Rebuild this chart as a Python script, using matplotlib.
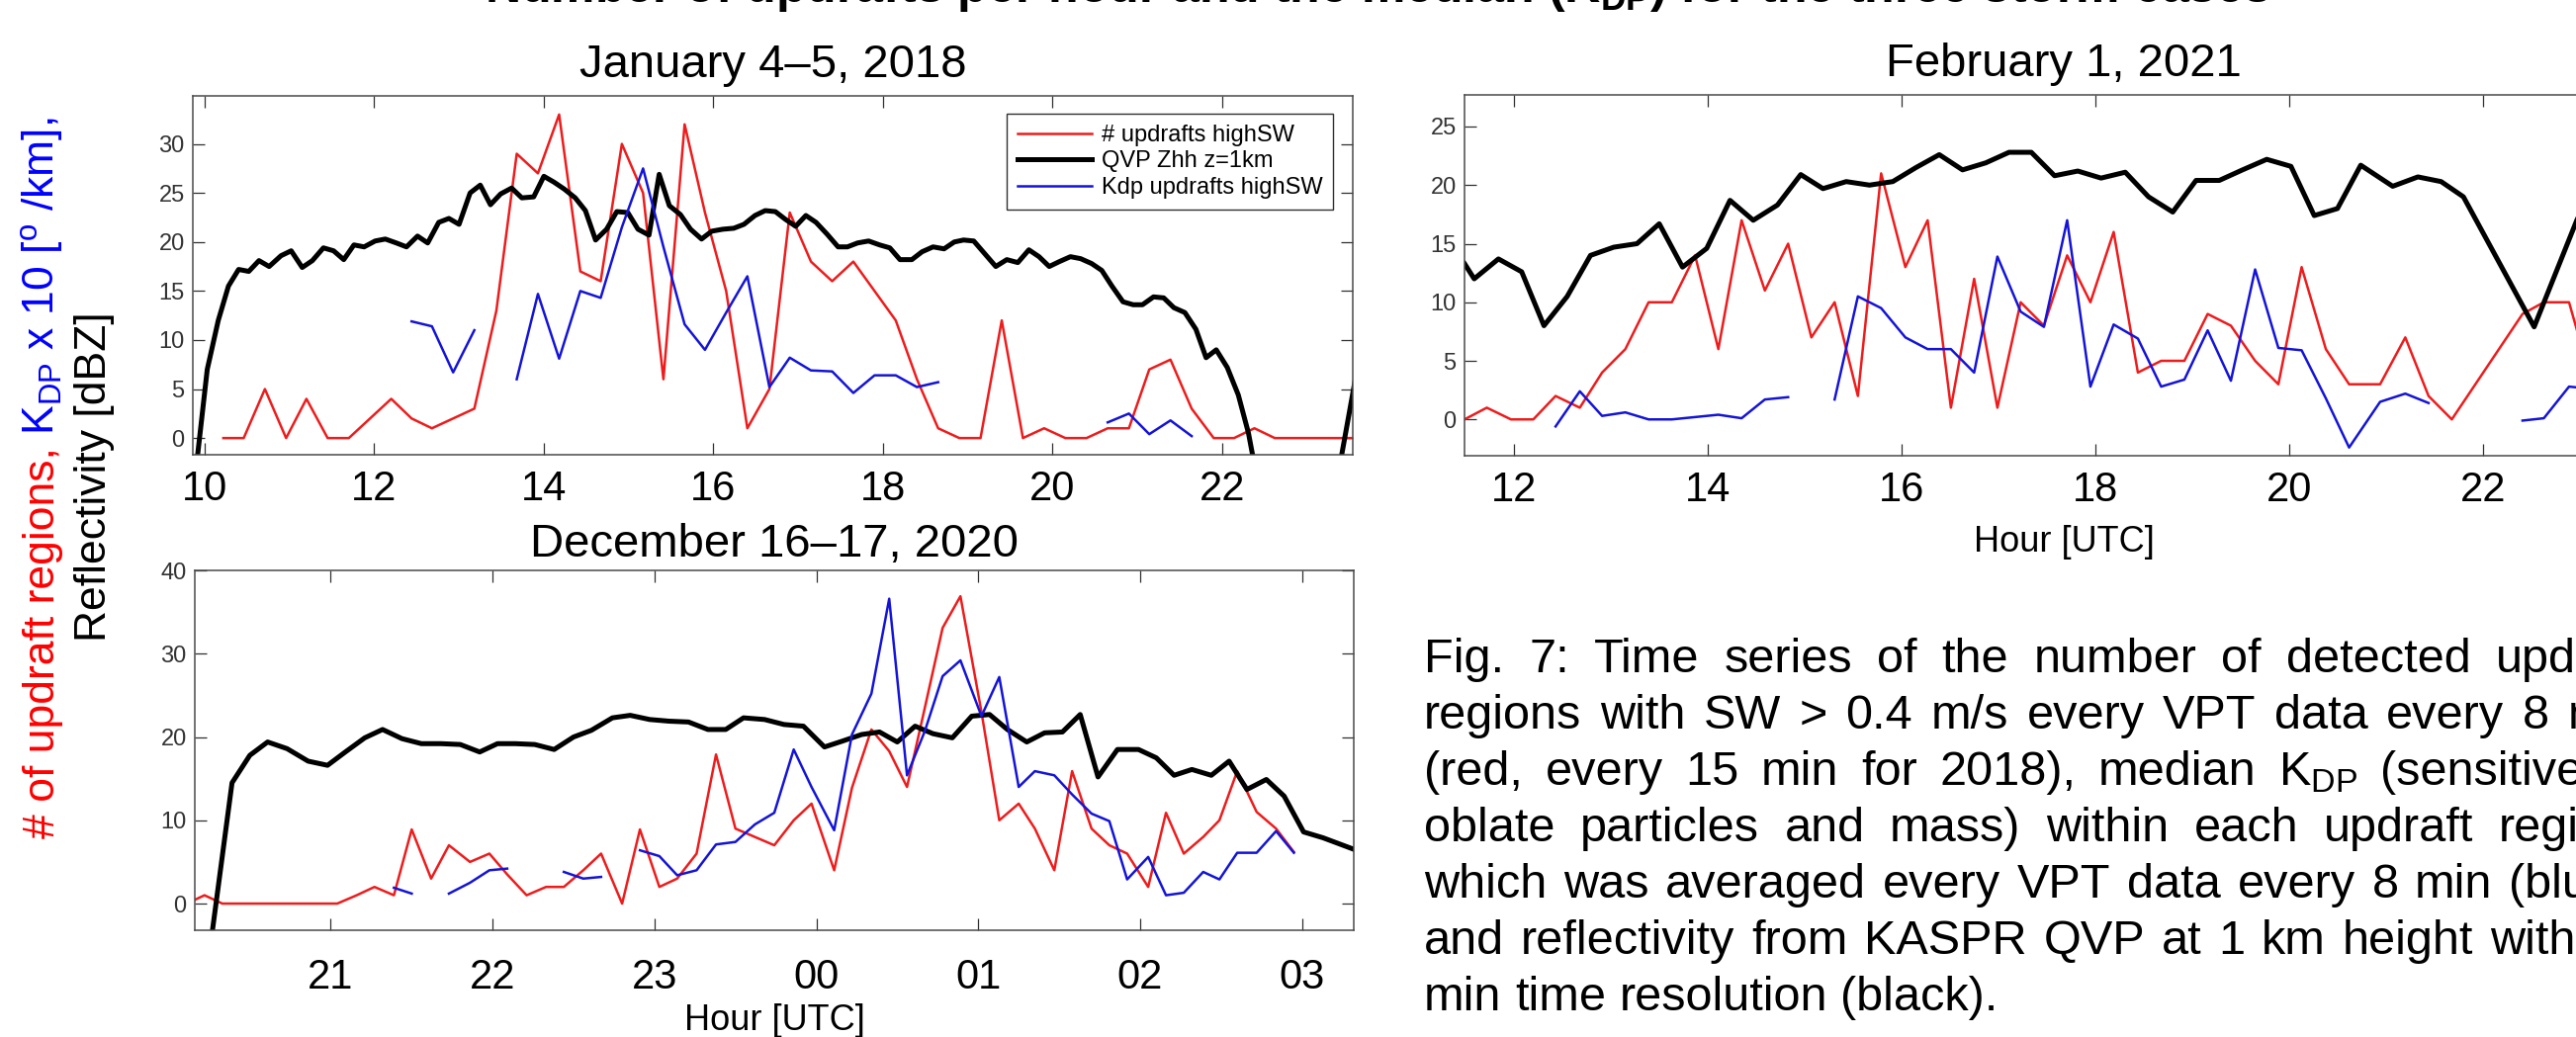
import numpy as np
import matplotlib
matplotlib.use("Agg")
import matplotlib.pyplot as plt
from matplotlib.lines import Line2D

plt.rcParams['font.family'] = ['Liberation Sans', 'DejaVu Sans']
plt.rcParams['mathtext.fontset'] = 'custom'
plt.rcParams['mathtext.rm'] = 'Liberation Sans'
plt.rcParams['mathtext.it'] = 'Liberation Sans:italic'
plt.rcParams['mathtext.bf'] = 'Liberation Sans:bold'
plt.rcParams['mathtext.default'] = 'regular'

nan = np.nan

# ---- January 4-5, 2018 ----
t_jan = [10.22, 10.46, 10.71, 10.96, 11.20, 11.45, 11.70, 11.95, 12.20, 12.44,
         12.68, 12.93, 13.18, 13.44, 13.68, 13.93, 14.18, 14.43, 14.67, 14.92,
         15.17, 15.41, 15.66, 15.90, 16.15, 16.40, 16.66, 16.90, 17.15, 17.40,
         17.65, 17.90, 18.15, 18.40, 18.65, 18.90, 19.15, 19.40, 19.65, 19.90,
         20.15, 20.40, 20.65, 20.90, 21.14, 21.39, 21.64, 21.90, 22.14, 22.38,
         22.62, 22.87, 23.12, 23.37, 23.62]
updrafts_jan = [0, 0, 5, 0, 4, 0, 0, 2, 4, 2,
                1, 2, 3, 13, 29, 27, 33, 17, 16, 30,
                25, 6, 32, 23, 15, 1, 5, 23, 18, 16,
                18, 15, 12, 6, 1, 0, 0, 12, 0, 1,
                0, 0, 1, 1, 7, 8, 3, 0, 0, 1,
                0, 0, 0, 0, 0]
kdp_jan = [nan, nan, nan, nan, nan, nan, nan, nan, nan, 11.9,
           11.4, 6.7, 11.0, nan, 6.0, 14.7, 8.1, 15.0, 14.3, 21.5,
           27.5, 19.5, 11.6, 9.0, 12.8, 16.5, 5.2, 8.2, 6.9, 6.8,
           4.6, 6.4, 6.4, 5.2, 5.7, nan, nan, nan, nan, nan,
           nan, nan, 1.6, 2.5, 0.4, 1.8, 0.2, nan, nan, nan,
           nan, nan, nan, nan, nan]
tq_jan = [9.90, 10.03, 10.16, 10.28, 10.40, 10.52, 10.64, 10.76, 10.90, 11.02,
          11.15, 11.27, 11.40, 11.52, 11.64, 11.76, 11.88, 12.01, 12.13, 12.26,
          12.38, 12.51, 12.63, 12.76, 12.88, 13.00, 13.13, 13.25, 13.37, 13.49,
          13.62, 13.74, 13.88, 14.00, 14.12, 14.24, 14.37, 14.49, 14.61, 14.74,
          14.86, 14.99, 15.11, 15.24, 15.36, 15.48, 15.61, 15.73, 15.86, 15.98,
          16.11, 16.24, 16.36, 16.49, 16.61, 16.73, 16.85, 16.97, 17.09, 17.21,
          17.34, 17.47, 17.58, 17.70, 17.83, 17.96, 18.08, 18.20, 18.34, 18.46,
          18.59, 18.72, 18.84, 18.95, 19.07, 19.20, 19.33, 19.46, 19.59, 19.72,
          19.84, 19.96, 20.08, 20.21, 20.33, 20.46, 20.58, 20.70, 20.83, 20.95,
          21.06, 21.19, 21.31, 21.43, 21.56, 21.69, 21.81, 21.93, 22.06, 22.19,
          22.31, 22.43, 23.32, 23.57]
zhh_jan = [-3, 7, 12, 15.5, 17.2, 17.0, 18.1, 17.5, 18.6, 19.1,
           17.4, 18.1, 19.4, 19.1, 18.2, 19.7, 19.5, 20.1, 20.3, 19.9,
           19.5, 20.6, 19.9, 22.0, 22.4, 21.8, 25.0, 25.8, 23.8, 24.9,
           25.5, 24.5, 24.6, 26.7, 26.1, 25.4, 24.5, 23.2, 20.2, 21.3,
           23.1, 23.0, 21.3, 20.7, 26.9, 23.7, 22.8, 21.3, 20.3, 21.1,
           21.3, 21.4, 21.8, 22.7, 23.2, 23.1, 22.3, 21.6, 22.7, 22.0,
           20.8, 19.5, 19.5, 19.9, 20.1, 19.7, 19.4, 18.2, 18.2, 19.0,
           19.5, 19.3, 20.0, 20.2, 20.1, 18.8, 17.5, 18.2, 17.9, 19.2,
           18.5, 17.5, 18.0, 18.5, 18.3, 17.8, 17.1, 15.5, 13.9, 13.6,
           13.6, 14.4, 14.3, 13.3, 12.8, 11.1, 8.2, 9.0, 7.2, 4.4,
           0.5, -5, -6, 6]

# ---- February 1, 2021 ----
t_feb = [11.49, 11.72, 11.97, 12.20, 12.43, 12.68, 12.91, 13.15, 13.39, 13.63,
         13.87, 14.11, 14.35, 14.59, 14.83, 15.07, 15.31, 15.55, 15.79, 16.04,
         16.27, 16.51, 16.75, 16.99, 17.23, 17.47, 17.71, 17.95, 18.19, 18.44,
         18.68, 18.92, 19.16, 19.40, 19.65, 19.89, 20.13, 20.38, 20.62, 20.94,
         21.20, 21.44, 21.68, 22.41, 22.63, 22.89, 23.13]
updrafts_feb = [0, 1, 0, 0, 2, 1, 4, 6, 10, 10,
                14, 6, 17, 11, 15, 7, 10, 2, 21, 13,
                17, 1, 12, 1, 10, 8, 14, 10, 16, 4,
                5, 5, 9, 8, 5, 3, 13, 6, 3, 3,
                7, 2, 0, 9, 10, 10, 3]
kdp_feb = [nan, nan, nan, nan, -0.6, 2.4, 0.3, 0.6, 0.0, 0.0,
           0.2, 0.4, 0.1, 1.7, 1.9, nan, 1.7, 10.5, 9.5, 7.0,
           6.0, 6.0, 4.0, 13.9, 9.2, 7.9, 17.0, 2.8, 8.1, 6.9,
           2.8, 3.4, 7.6, 3.3, 12.8, 6.1, 5.9, 1.8, -2.4, 1.5,
           2.2, 1.4, nan, -0.1, 0.1, 2.8, 2.6]
tq_feb = [11.49, 11.59, 11.84, 12.08, 12.31, 12.55, 12.79, 13.03, 13.27, 13.50,
          13.74, 13.99, 14.23, 14.47, 14.72, 14.96, 15.19, 15.43, 15.67, 15.91,
          16.15, 16.39, 16.63, 16.87, 17.11, 17.34, 17.58, 17.82, 18.06, 18.31,
          18.55, 18.80, 19.04, 19.28, 19.52, 19.77, 20.02, 20.26, 20.50, 20.74,
          21.07, 21.33, 21.57, 21.80, 22.53, 22.97, 23.20]
zhh_feb = [13.3, 12.0, 13.7, 12.6, 8.0, 10.5, 14.0, 14.7, 15.0, 16.7,
           13.0, 14.6, 18.7, 17.0, 18.3, 20.9, 19.7, 20.3, 20.0, 20.3,
           21.5, 22.6, 21.3, 21.9, 22.8, 22.8, 20.8, 21.2, 20.6, 21.1,
           19.0, 17.7, 20.4, 20.4, 21.3, 22.2, 21.6, 17.4, 18.0, 21.7,
           19.9, 20.7, 20.3, 19.0, 7.9, 17.0, 21.0]

# ---- December 16-17, 2020 (hours after midnight written as 24+) ----
t_dec = [20.11, 20.22, 20.33, 20.45, 20.56, 20.68, 20.80, 20.92, 21.04, 21.16,
         21.27, 21.39, 21.50, 21.62, 21.73, 21.86, 21.98, 22.09, 22.21, 22.33,
         22.44, 22.56, 22.67, 22.80, 22.91, 23.03, 23.14, 23.26, 23.38, 23.50,
         23.62, 23.74, 23.86, 23.97, 24.11, 24.22, 24.34, 24.45, 24.56, 24.67,
         24.78, 24.89, 25.02, 25.13, 25.25, 25.35, 25.47, 25.58, 25.70, 25.81,
         25.92, 26.05, 26.16, 26.27, 26.39, 26.49, 26.60, 26.72, 26.84, 26.95]
updrafts_dec = [0, 1, 0, 0, 0, 0, 0, 0, 0, 1,
                2, 1, 8.9, 3, 7, 5, 6, 3.5, 1, 2,
                2, 4, 6, 0, 8.9, 2, 3, 6, 17.9, 9,
                8, 7, 10, 12, 4, 13.9, 20.9, 18.3, 14, 23.5,
                33.1, 36.9, 23, 10, 12, 9, 4, 15.9, 9, 7,
                6, 2, 10.9, 6, 8, 10, 15.9, 11, 9, 6.2]
kdp_dec = [nan, nan, nan, nan, nan, nan, nan, nan, nan, nan,
           nan, 1.9, 1.2, nan, 1.2, 2.5, 4.0, 4.2, nan, nan,
           3.8, 3.0, 3.2, nan, 6.4, 5.7, 3.4, 4.0, 7.1, 7.4,
           9.5, 10.9, 18.5, 14.0, 8.8, 20.3, 25.2, 36.6, 15.4, 20.7,
           27.3, 29.2, 22.5, 27.2, 14.0, 15.9, 15.4, 13.1, 10.8, 9.9,
           2.9, 5.6, 1.0, 1.3, 3.8, 2.9, 6.1, 6.1, 8.7, 6.1]
tq_dec = [20.25, 20.39, 20.50, 20.61, 20.73, 20.86, 20.98, 21.09, 21.21, 21.32,
          21.44, 21.56, 21.68, 21.80, 21.92, 22.03, 22.14, 22.26, 22.38, 22.50,
          22.61, 22.74, 22.85, 22.97, 23.09, 23.21, 23.33, 23.44, 23.55, 23.68,
          23.80, 23.92, 24.05, 24.16, 24.28, 24.39, 24.50, 24.61, 24.72, 24.84,
          24.96, 25.07, 25.18, 25.30, 25.41, 25.52, 25.63, 25.74, 25.86, 25.99,
          26.10, 26.21, 26.32, 26.44, 26.55, 26.66, 26.78, 26.89, 27.01, 27.13,
          27.24, 27.35]
zhh_dec = [-6, 14.5, 17.8, 19.4, 18.6, 17.1, 16.6, 18.2, 19.9, 20.9,
           19.8, 19.2, 19.2, 19.1, 18.2, 19.2, 19.2, 19.1, 18.5, 20.0,
           20.8, 22.3, 22.6, 22.1, 21.9, 21.8, 20.9, 20.9, 22.3, 22.1,
           21.5, 21.3, 18.8, 19.5, 20.3, 20.6, 19.4, 21.3, 20.4, 19.9,
           22.5, 22.7, 20.9, 19.4, 20.5, 20.6, 22.7, 15.2, 18.5, 18.5,
           17.5, 15.4, 16.1, 15.4, 17.1, 13.7, 14.9, 12.9, 8.6, 7.9,
           7.1, 6.3]
dec_ticks = [21, 22, 23, 24, 25, 26, 27]
dec_ticklabels = ['21', '22', '23', '00', '01', '02', '03']

legend_labels = ['# updrafts highSW', 'QVP Zhh z=1km', 'Kdp updrafts highSW']

caption = ["Fig. 7: Time series of the number of detected updraft",
           "regions with SW > 0.4 m/s every VPT data every 8 min",
           "(red, every 15 min for 2018), median K$_{DP}$ (sensitive to",
           "oblate particles and mass) within each updraft region,",
           "which was averaged every VPT data every 8 min (blue),",
           "and reflectivity from KASPR QVP at 1 km height with 15",
           "min time resolution (black)."]

RED = '#ee1c1c'
BLUE = '#1414d8'
SPINE = '#4a4a4a'

W, H = 2605, 1049
fig = plt.figure(figsize=(W / 100, H / 100), dpi=100)


def add_ax(left, top, right, bottom):
    return fig.add_axes([left / W, 1 - bottom / H, (right - left) / W, (bottom - top) / H])


def style(ax, xpad):
    ax.tick_params(direction='in', top=True, right=True, length=8.5, width=0.9, color='#303030')
    ax.tick_params(axis='x', labelsize=30, pad=xpad, labelcolor='black')
    ax.tick_params(axis='y', labelsize=17, pad=6, labelcolor='#333333')
    for s in ax.spines.values():
        s.set_color(SPINE)
        s.set_linewidth(1.1)


def draw(ax, t, red, tq, z, blue):
    ax.plot(t, red, color=RED, lw=1.8)
    ax.plot(tq, z, color='black', lw=3.6)
    ax.plot(t, blue, color=BLUE, lw=1.8)


ax1 = add_ax(195, 97, 1368, 460)
draw(ax1, t_jan, updrafts_jan, tq_jan, zhh_jan, kdp_jan)
ax1.set_xlim(9.86, 23.54)
ax1.set_ylim(-1.7, 34.9)
ax1.set_xticks([10, 12, 14, 16, 18, 20, 22])
ax1.set_yticks([0, 5, 10, 15, 20, 25, 30])
style(ax1, 11)
ax1.set_title('January 4\u20135, 2018', fontsize=34, pad=14)

handles = [Line2D([], [], color=RED, lw=1.8), Line2D([], [], color='black', lw=3.6),
           Line2D([], [], color=BLUE, lw=1.8)]
leg = ax1.legend(handles, legend_labels, loc='upper right', bbox_to_anchor=(0.983, 0.950),
                 fontsize=17, frameon=True, fancybox=False, edgecolor='#303030', framealpha=1,
                 handlelength=3.2, borderaxespad=0, labelspacing=0.2, handletextpad=0.4,
                 borderpad=0.45)
leg.get_frame().set_linewidth(1.0)

ax2 = add_ax(1481, 96, 2693, 461)
draw(ax2, t_feb, updrafts_feb, tq_feb, zhh_feb, kdp_feb)
ax2.set_xlim(11.49, 23.86)
ax2.set_ylim(-3.1, 27.7)
ax2.set_xticks([12, 14, 16, 18, 20, 22])
ax2.set_yticks([0, 5, 10, 15, 20, 25])
style(ax2, 11)
ax2.set_title('February 1, 2021', fontsize=34, pad=14)

ax3 = add_ax(197, 577, 1369, 941)
draw(ax3, t_dec, updrafts_dec, tq_dec, zhh_dec, kdp_dec)
ax3.set_xlim(20.16, 27.32)
ax3.set_ylim(-3.2, 40)
ax3.set_xticks(dec_ticks)
ax3.set_xticklabels(dec_ticklabels)
ax3.set_yticks([0, 10, 20, 30, 40])
style(ax3, 20)
ax3.set_title('December 16\u201317, 2020', fontsize=34, pad=10)

fig.text(2087 / W, 1 - 548 / H, 'Hour [UTC]', fontsize=26, ha='center', va='center')
fig.text(783 / W, 1 - 1033 / H, 'Hour [UTC]', fontsize=26, ha='center', va='center')

# top figure title, only its lowest part falls inside the picture
fig.text(490 / W, 1 - 2 / H, 'Number of updrafts per hour and the median (K$_{DP}$) for the three storm cases',
         fontsize=36, fontweight='bold', ha='left', va='baseline')

renderer = fig.canvas.get_renderer()


def text_width(s, fs):
    t = fig.text(0, 0, s, fontsize=fs)
    w = t.get_window_extent(renderer).width
    t.remove()
    return w


# multi-coloured y label
YFS = 32
sp = text_width('n n', YFS) - text_width('nn', YFS)
t1 = fig.text(55 / W, 1 - 848 / H, '# of updraft regions,', color='red', fontsize=YFS,
              rotation=90, rotation_mode='anchor', ha='left', va='baseline')
y_next = t1.get_window_extent(renderer).y1 + sp
fig.text(55 / W, y_next / H, 'K$_{DP}$ x 10 [$^{o}$ /km],', color='blue', fontsize=YFS,
         rotation=90, rotation_mode='anchor', ha='left', va='baseline')
fig.text(107 / W, 1 - 649 / H, 'Reflectivity [dBZ]', color='black', fontsize=YFS,
         rotation=90, rotation_mode='anchor', ha='left', va='baseline')

# justified caption
CFS = 35
x0, col_w = 1440, 1235
base0, step = 680, 57
csp = text_width('n n', CFS) - text_width('nn', CFS)
for i, line in enumerate(caption):
    words = line.split(' ')
    y = 1 - (base0 + i * step) / H
    texts = [fig.text(0, y, w, fontsize=CFS, ha='left', va='baseline') for w in words]
    widths = [t.get_window_extent(renderer).width for t in texts]
    if i < len(caption) - 1:
        gap = (col_w - sum(widths)) / (len(words) - 1)
    else:
        gap = csp
    x = x0
    for t, w in zip(texts, widths):
        t.set_x(x / W)
        x += w + gap

fig.savefig('out.png', dpi=100)
